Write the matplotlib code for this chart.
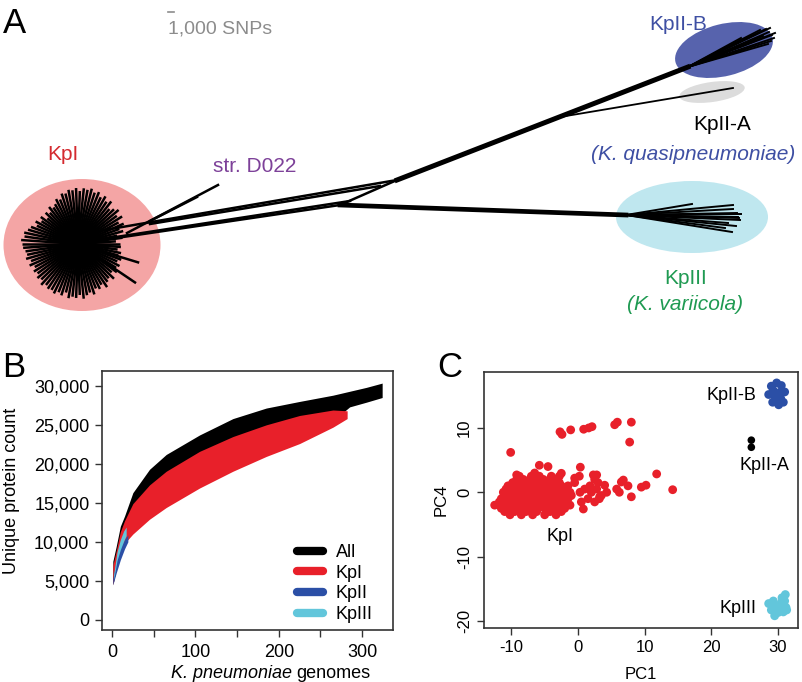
import numpy as np
import matplotlib
matplotlib.use('Agg')
import matplotlib.pyplot as plt
from matplotlib.patches import Ellipse
from matplotlib.lines import Line2D

plt.rcParams['font.family'] = ['Liberation Sans', 'DejaVu Sans']
plt.rcParams['axes.unicode_minus'] = False

W, H = 802.0, 682.0

# ---------------- panel A : tree, in picture pixels ----------------
kp1_centre = (78, 244)
ray_angle = [0, 4, 8, 12, 16, 20, 24, 28, 32, 36, 40, 44, 48, 52, 56, 60, 64, 68,
             72, 76, 80, 84, 88, 92, 96, 100, 104, 108, 112, 116, 120, 124, 128,
             132, 136, 140, 144, 148, 152, 156, 160, 164, 168, 172, 176, 180, 184,
             188, 192, 196, 200, 204, 208, 212, 216, 220, 224, 228, 232, 236, 240,
             244, 248, 252, 256, 260, 264, 268, 272, 276, 280, 284, 288, 292, 296,
             300, 304, 308, 312, 316, 320, 324, 326, 328, 332, 336, 340, 343, 344,
             348, 352, 356]
ray_len = [42, 38, 45, 40, 47, 44, 50, 46, 52, 48, 53, 50, 47, 54, 51, 55, 52, 56,
           54, 57, 55, 56, 53, 56, 54, 55, 52, 53, 48, 50, 46, 44, 47, 42, 45, 40,
           46, 43, 48, 45, 50, 52, 55, 54, 57, 56, 55, 53, 52, 54, 50, 53, 49, 52,
           50, 53, 51, 55, 52, 54, 53, 55, 52, 54, 50, 55, 53, 54, 51, 55, 52, 50,
           53, 48, 50, 47, 52, 48, 46, 50, 44, 48, 70, 45, 47, 43, 46, 64, 42, 44,
           40, 43]

# trunks (x0, y0, x1, y1)
trunk_kp2 = (397, 180, 688, 67)
trunk_kp3 = (340, 205, 626, 215)
# thinner inner branches
inner_branches = [(340, 205, 397, 180), (397, 180, 93, 232), (380, 186, 150, 224),
                  (340, 205, 123, 237), (350, 201, 90, 241),
                  (127, 233, 218, 185), (150, 221, 197, 197)]
kp2a_branch = (560, 117, 733, 88)
kp2b_node = (688, 67)
kp2b_tips = [(741, 38), (766, 29), (769, 32), (772, 35), (774, 38), (771, 41),
             (768, 44), (763, 36), (760, 30), (770, 28), (775, 33), (755, 40)]
kp3_node = (626, 215)
kp3_tips = [(692, 204), (733, 205), (738, 217), (740, 220), (732, 232), (725, 228),
            (737, 213), (733, 209), (728, 223), (739, 218), (736, 226), (741, 214)]

# ---------------- panel B : rarefaction bands ----------------
n_all = [1, 5, 10, 15, 25, 45, 65, 105, 145, 185, 225, 265, 285, 305, 324]
all_hi = [7500, 9400, 12000, 13300, 16300, 19300, 21200, 23700, 25800, 27150,
          28000, 28800, 29300, 29800, 30350]
all_lo = [4500, 6500, 8600, 9800, 11500, 14500, 16500, 19000, 21000, 22500,
          23800, 25500, 27300, 27900, 28500]
n_kp1 = [1, 5, 10, 15, 25, 45, 65, 105, 145, 185, 225, 265, 282]
kp1_hi = [7000, 8800, 11300, 12700, 14900, 17300, 19050, 21600, 23500, 25000,
          26200, 26900, 26800]
kp1_lo = [4500, 6500, 8500, 9800, 11000, 12900, 14400, 16900, 19050, 20950,
          22600, 24700, 25800]
n_kp2 = [1, 5, 10, 15, 19]
kp2_lo = [4500, 6000, 7700, 9100, 10000]
kp2_hi = [5300, 7600, 9300, 10300, 10900]
n_kp3 = [2, 6, 10, 14, 17]
kp3_lo = [5200, 7600, 9000, 10100, 10800]
kp3_hi = [5800, 8700, 10300, 11400, 11900]
legend_labels = ['All', 'KpI', 'KpII', 'KpIII']

# ---------------- panel C : PCA points (PC1, PC4) ----------------
kp1_pts = [
    (-10.2, -3.5), (-8.5, -3.5), (-6.8, -3.5), (-5.0, -3.5), (-3.3, -3.5),
    (-11, -3), (-9.5, -3), (-7.8, -3), (-6.2, -3), (-4.2, -3), (-2.5, -3),
    (-11.5, -2.5), (-10, -2.5), (-9, -2.5), (-8, -2.5), (-7, -2.5), (-6, -2.5),
    (-5, -2.5), (-4, -2.5), (-3, -2.5), (-2, -2.5), (0.8, -2.6),
    (-12.5, -2), (-11, -2), (-10.5, -2), (-9.5, -2), (-8.5, -2), (-7.5, -2),
    (-6.5, -2), (-5.5, -2), (-4.5, -2), (-3.5, -2), (-2.5, -2), (-1.2, -2),
    (-11.8, -1.5), (-10.8, -1.5), (-9.8, -1.5), (-8.8, -1.5), (-7.8, -1.5),
    (-6.8, -1.5), (-5.8, -1.5), (-4.8, -1.5), (-3.8, -1.5), (-2.8, -1.5),
    (-1.8, -1.5), (0.5, -1.5), (2.5, -1.5),
    (-11.5, -1), (-10.5, -1), (-9.5, -1), (-8.5, -1), (-7.5, -1), (-6.5, -1),
    (-5.5, -1), (-4.5, -1), (-3.5, -1), (-2.5, -1), (-1.5, -1), (1.5, -1), (3.2, -1),
    (-11, -0.5), (-10, -0.5), (-9, -0.5), (-8, -0.5), (-7, -0.5), (-6, -0.5),
    (-5, -0.5), (-4, -0.5), (-3, -0.5), (-2, -0.5), (-1, -0.5), (3.5, -0.5),
    (8.0, -0.7), (3.25, -0.7),
    (-11.2, 0), (-10.2, 0), (-9.2, 0), (-8.2, 0), (-7.2, 0), (-6.2, 0), (-5.2, 0),
    (-4.2, 0), (-3.2, 0), (-2.2, 0), (-1.2, 0), (0.3, 0), (2.0, 0), (4.3, 0), (6.2, 0),
    (-10.8, 0.5), (-9.8, 0.5), (-8.8, 0.5), (-7.8, 0.5), (-6.8, 0.5), (-5.8, 0.5),
    (-4.8, 0.5), (-3.8, 0.5), (-2.8, 0.5), (-1.8, 0.5), (1.0, 0.5), (2.8, 0.5),
    (5.8, 0.5), (9.5, 0.8), (14.2, 0.4),
    (-10.5, 1), (-9.5, 1), (-8.5, 1), (-7.5, 1), (-6.5, 1), (-5.5, 1), (-4.5, 1),
    (-3.5, 1), (-2.5, 1), (-1.5, 1), (1.8, 1), (4.0, 1.1), (7.5, 1), (10.2, 1.1),
    (-9.8, 1.5), (-8.8, 1.5), (-7.8, 1.5), (-6.8, 1.5), (-5.8, 1.5), (-4.8, 1.5),
    (-3.8, 1.5), (-2.8, 1.5), (-0.5, 1.5), (3.0, 1.5), (6.5, 1.6),
    (-9.2, 2), (-8.2, 2), (-7.2, 2), (-6.2, 2), (-5.2, 2), (-4.2, 2), (-3.2, 2),
    (-0.5, 2.2), (2.5, 2.0), (6.8, 1.9),
    (-8.8, 2.5), (-7.0, 2.5), (-5.8, 2.5), (-4.0, 2.5), (-2.8, 2.5), (0.2, 2.5),
    (2.3, 2.7), (2.8, 2.7), (-9.2, 2.7), (-6.5, 3.0), (-2.5, 2.95), (11.8, 2.85),
    (-5.8, 4.2), (-4.5, 4.0), (0.35, 3.9), (-10.1, 6.2),
    (-2.7, 9.4), (-2.4, 9.0), (-1.1, 9.7), (0.85, 9.8), (1.6, 10.0), (2.1, 10.2),
    (5.5, 10.5), (5.9, 10.9), (8.0, 10.9), (7.75, 7.8)]
kp2b_pts = [(29.0, 16.5), (29.8, 17.0), (30.5, 16.6), (29.3, 15.8), (30.2, 15.5),
            (31.0, 15.6), (28.6, 15.2), (29.6, 14.8), (30.4, 14.6), (29.2, 14.0),
            (30.1, 13.6), (30.8, 14.0), (29.9, 15.2)]
kp2a_pts = [(26.0, 8.1), (26.0, 7.0)]
kp3_pts = [(28.6, -17.3), (29.0, -18.3), (29.5, -19.2), (30.0, -18.7), (30.8, -18.6),
           (31.2, -17.9), (30.5, -17.2), (29.7, -17.6), (31.0, -16.9), (31.1, -15.9),
           (30.6, -16.4), (29.3, -16.9), (30.2, -18.0), (31.3, -18.3)]

RED = '#e8202a'
BLUE = '#2b4fa6'
CYAN = '#62c6db'


def fx(x):
    return x / W


def fy(y):
    return 1 - y / H


fig = plt.figure(figsize=(8.02, 6.82), dpi=100)

# ======== A ========
axA = fig.add_axes([0, fy(340), 1, 340 / H])
axA.set_xlim(0, W)
axA.set_ylim(340, 0)
axA.axis('off')

axA.add_patch(Ellipse((82, 245), 157, 132, color='#f4a5a5', lw=0))
axA.add_patch(Ellipse((724, 50), 100, 52, angle=-14, color='#5763ad', lw=0))
axA.add_patch(Ellipse((712, 92), 66, 20, angle=-8, color='#dcdcdc', lw=0))
axA.add_patch(Ellipse((692, 217), 152, 72, color='#bfe7ef', lw=0))

cx, cy = kp1_centre
for a, L in zip(ray_angle, ray_len):
    t = np.deg2rad(a)
    axA.plot([cx, cx + L * np.cos(t)], [cy, cy - L * np.sin(t)], color='black',
             lw=1.8, solid_capstyle='butt')

for b in inner_branches:
    axA.plot([b[0], b[2]], [b[1], b[3]], color='black', lw=1.8)
axA.plot([trunk_kp2[0], trunk_kp2[2]], [trunk_kp2[1], trunk_kp2[3]], color='black', lw=3.6)
axA.plot([trunk_kp3[0], trunk_kp3[2]], [trunk_kp3[1], trunk_kp3[3]], color='black', lw=3.4)
axA.plot([kp2a_branch[0], kp2a_branch[2]], [kp2a_branch[1], kp2a_branch[3]], color='black', lw=1.3)
for tx, ty in kp2b_tips:
    axA.plot([kp2b_node[0], tx], [kp2b_node[1], ty], color='black', lw=1.4)
for tx, ty in kp3_tips:
    axA.plot([kp3_node[0], tx], [kp3_node[1], ty], color='black', lw=1.4)

# scale bar
axA.plot([168, 174], [12, 12], color='#8c8c8c', lw=1.2)
axA.text(168, 33, '1,000 SNPs', color='#8c8c8c', fontsize=14, ha='left', va='baseline')

axA.text(63, 155, 'KpI', color='#d42a2f', fontsize=15, ha='center', va='center')
axA.text(255, 167, 'str. D022', color='#7d4199', fontsize=15, ha='center', va='center')
axA.text(678, 25, 'KpII-B', color='#3e4fa3', fontsize=15, ha='center', va='center')
axA.text(722, 124, 'KpII-A', color='black', fontsize=15, ha='center', va='center')
axA.text(693, 154, '(K. quasipneumoniae)', color='#3e4fa3', fontsize=15,
         style='italic', ha='center', va='center')
axA.text(686, 278, 'KpIII', color='#1f9a52', fontsize=15, ha='center', va='center')
axA.text(685, 305, '(K. variicola)', color='#1f9a52', fontsize=15, style='italic',
         ha='center', va='center')

fig.text(fx(3), fy(33), 'A', fontsize=25, ha='left', va='baseline')
fig.text(fx(2), fy(377), 'B', fontsize=25, ha='left', va='baseline')
fig.text(fx(437), fy(377), 'C', fontsize=25, ha='left', va='baseline')

# ======== B ========
axB = fig.add_axes([fx(102), fy(630), (393 - 102) / W, (630 - 371) / H])
axB.fill_between(n_all, all_lo, all_hi, color='black', lw=0)
axB.fill_between(n_kp1, kp1_lo, kp1_hi, color=RED, lw=0)
axB.fill_between(n_kp2, kp2_lo, kp2_hi, color=BLUE, lw=0)
axB.fill_between(n_kp3, kp3_lo, kp3_hi, color=CYAN, lw=0)
axB.set_xlim(-12, 337)
axB.set_ylim(-1300, 31900)
axB.set_xticks([0, 50, 100, 150, 200, 250, 300])
axB.set_xticklabels(['0', '', '100', '', '200', '', '300'])
yt = [0, 5000, 10000, 15000, 20000, 25000, 30000]
axB.set_yticks(yt)
axB.set_yticklabels(['{:,}'.format(v) for v in yt])
axB.tick_params(labelsize=13, length=5, width=1, direction='out', color='#333333')
axB.tick_params(axis='y', pad=4)
axB.tick_params(axis='x', pad=5)
for s in axB.spines.values():
    s.set_color('#333333')
    s.set_linewidth(1.2)
fig.text(fx(12), fy(491), 'Unique protein count', fontsize=13, rotation=90,
         ha='center', va='center')
fig.text(fx(292), fy(673), 'K. pneumoniae', fontsize=13, style='italic',
         ha='right', va='center')
fig.text(fx(296), fy(673), 'genomes', fontsize=13, ha='left', va='center')

handles = [Line2D([], [], color=c, lw=6, solid_capstyle='round')
           for c in ['black', RED, BLUE, CYAN]]
axB.legend(handles, legend_labels, loc='upper left', bbox_to_anchor=(fx(297), fy(544)),
           bbox_transform=fig.transFigure, frameon=False, fontsize=13,
           handlelength=1.45, handletextpad=0.7, labelspacing=0.2, borderpad=0,
           borderaxespad=0)

# ======== C ========
axC = fig.add_axes([fx(484), fy(628), (798 - 484) / W, (628 - 372) / H])
p = np.array(kp1_pts)
axC.scatter(p[:, 0], p[:, 1], s=40, color=RED, edgecolors='none')
p = np.array(kp2b_pts)
axC.scatter(p[:, 0], p[:, 1], s=40, color=BLUE, edgecolors='none')
p = np.array(kp2a_pts)
axC.scatter(p[:, 0], p[:, 1], s=30, color='black', edgecolors='none')
p = np.array(kp3_pts)
axC.scatter(p[:, 0], p[:, 1], s=40, color=CYAN, edgecolors='none')
axC.set_xlim(-14.1, 33)
axC.set_ylim(-21.1, 18.7)
axC.set_xticks([-10, 0, 10, 20, 30])
axC.set_yticks([-20, -10, 0, 10])
axC.tick_params(labelsize=12, length=5, width=1, direction='out', color='#333333')
for lab in axC.get_yticklabels():
    lab.set_rotation(90)
    lab.set_va('center')
for s in axC.spines.values():
    s.set_color('#333333')
    s.set_linewidth(1.2)
axC.set_xlabel('PC1', fontsize=12, labelpad=9)
axC.set_ylabel('PC4', fontsize=12, labelpad=6)
axC.text(26.8, 15.1, 'KpII-B', fontsize=13, ha='right', va='center')
axC.text(28.0, 4.2, 'KpII-A', fontsize=13, ha='center', va='center')
axC.text(26.8, -18.0, 'KpIII', fontsize=13, ha='right', va='center')
axC.text(-2.75, -6.9, 'KpI', fontsize=13, ha='center', va='center')

fig.savefig('out.png', dpi=100)
